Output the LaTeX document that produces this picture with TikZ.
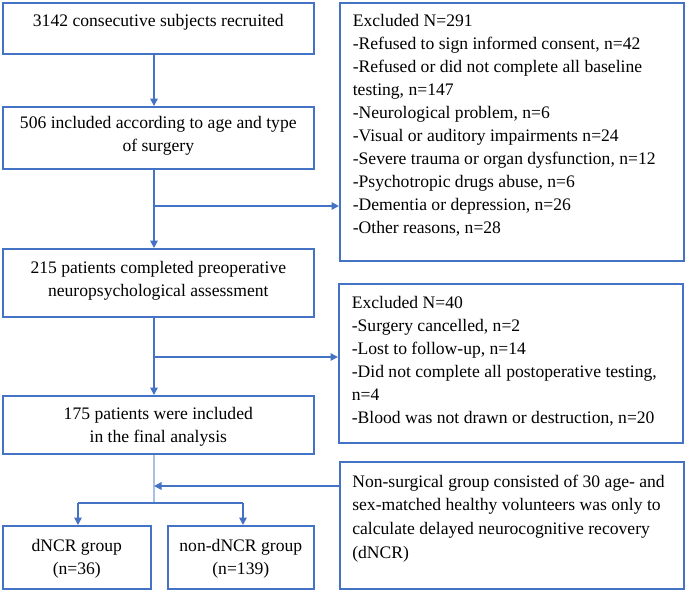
\documentclass[tikz,border=0pt]{standalone}
\usepackage{fontspec}
\setmainfont{Liberation Serif}
\usetikzlibrary{arrows.meta,calc}
\definecolor{fcblue}{HTML}{4472C4}
\definecolor{fclight}{HTML}{A9BFE6}
\newcommand{\bxt}[4]{\parbox[c][#1][t]{#2}{#3\strut#4}}
\begin{document}
\begin{tikzpicture}[x=1pt,y=-1pt,
  box/.style={draw=fcblue, line width=1.6pt, rectangle, anchor=north west, inner sep=0pt,
    font=\fontsize{17.6}{23}\selectfont},
  arr/.style={draw=fcblue, line width=1.6pt, -{Triangle[length=7.5pt,width=7.5pt]}},
  link/.style={draw=fcblue, line width=1.6pt},
  lightlink/.style={draw=fclight, line width=1.3pt}]
\useasboundingbox (0,0) rectangle (685,590);

% main column
\node[box, inner xsep=0pt, inner ysep=7.7pt] (b1) at (2,2)
  {\bxt{35.6pt}{311pt}{\centering}{\mbox{3142 consecutive subjects recruited}}};
\node[box, inner xsep=0pt, inner ysep=5.7pt] (b2) at (2,106)
  {\bxt{50.6pt}{311pt}{\centering}{\mbox{506 included according to age and type}\\\mbox{of surgery}}};
\node[box, inner xsep=0pt, inner ysep=8.7pt] (b3) at (2,248)
  {\bxt{50.6pt}{311pt}{\centering}{\mbox{215 patients completed preoperative}\\\mbox{neuropsychological assessment}}};
\node[box, inner xsep=0pt, inner ysep=7.2pt] (b4) at (2,395)
  {\bxt{43.6pt}{311pt}{\centering}{\mbox{175 patients were included}\\\mbox{in the final analysis}}};
\node[box, inner xsep=0pt, inner ysep=9.7pt] (d1) at (2,525)
  {\bxt{43.6pt}{148pt}{\centering}{\mbox{dNCR group}\\\mbox{(n=36)}}};
\node[box, inner xsep=0pt, inner ysep=9.7pt] (d2) at (167,525)
  {\bxt{43.6pt}{146pt}{\centering}{\mbox{non-dNCR group}\\\mbox{(n=139)}}};

% side boxes
\node[box, inner xsep=13pt, inner ysep=7.7pt] (ex1) at (339,2)
  {\bxt{242.6pt}{318pt}{\raggedright}{\mbox{Excluded N=291}\\
   \mbox{-Refused to sign informed consent, n=42}\\
   \mbox{-Refused or did not complete all baseline}\\
   \mbox{testing, n=147}\\
   \mbox{-Neurological problem, n=6}\\
   \mbox{-Visual or auditory impairments n=24}\\
   \mbox{-Severe trauma or organ dysfunction, n=12}\\
   \mbox{-Psychotropic drugs abuse, n=6}\\
   \mbox{-Dementia or depression, n=26}\\
   \mbox{-Other reasons, n=28}}};
\node[box, inner xsep=13pt, inner ysep=8.7pt] (ex2) at (338,283)
  {\bxt{141.6pt}{318pt}{\raggedright}{\mbox{Excluded N=40}\\
   \mbox{-Surgery cancelled, n=2}\\
   \mbox{-Lost to follow-up, n=14}\\
   \mbox{-Did not complete all postoperative testing,}\\
   \mbox{n=4}\\
   \mbox{-Blood was not drawn or destruction, n=20}}};
\node[box, inner xsep=12.5pt, inner ysep=8.7pt, font=\fontsize{17.6}{23.8}\selectfont] (ns) at (339,461)
  {\bxt{109.6pt}{319pt}{\raggedright}{\mbox{Non-surgical group consisted of 30 age- and}\\
   \mbox{sex-matched healthy volunteers was only to}\\
   \mbox{calculate delayed neurocognitive recovery}\\
   \mbox{(dNCR)}}};

% connectors
\coordinate (mx) at (154,0);
\coordinate (j1) at (154,206);
\coordinate (j2) at (154,357);
\coordinate (j3) at (154,503);
\coordinate (j4) at (154,486);
\coordinate (jl) at (78,503);
\coordinate (jr) at (243,503);

\draw[arr] (b1.south -| mx) -- (b2.north -| mx);
\draw[arr] (b2.south -| mx) -- (b3.north -| mx);
\draw[arr] (j1) -- (j1 -| ex1.west);
\draw[arr] (b3.south -| mx) -- (b4.north -| mx);
\draw[arr] (j2) -- (j2 -| ex2.west);
\draw[lightlink] (b4.south -| mx) -- (j3);
\draw[arr] (j4 -| ns.west) -- (j4);
\draw[link] (jl) -- (jr);
\draw[arr] (jl) -- (jl |- d1.north);
\draw[arr] (jr) -- (jr |- d2.north);
\end{tikzpicture}
\end{document}
